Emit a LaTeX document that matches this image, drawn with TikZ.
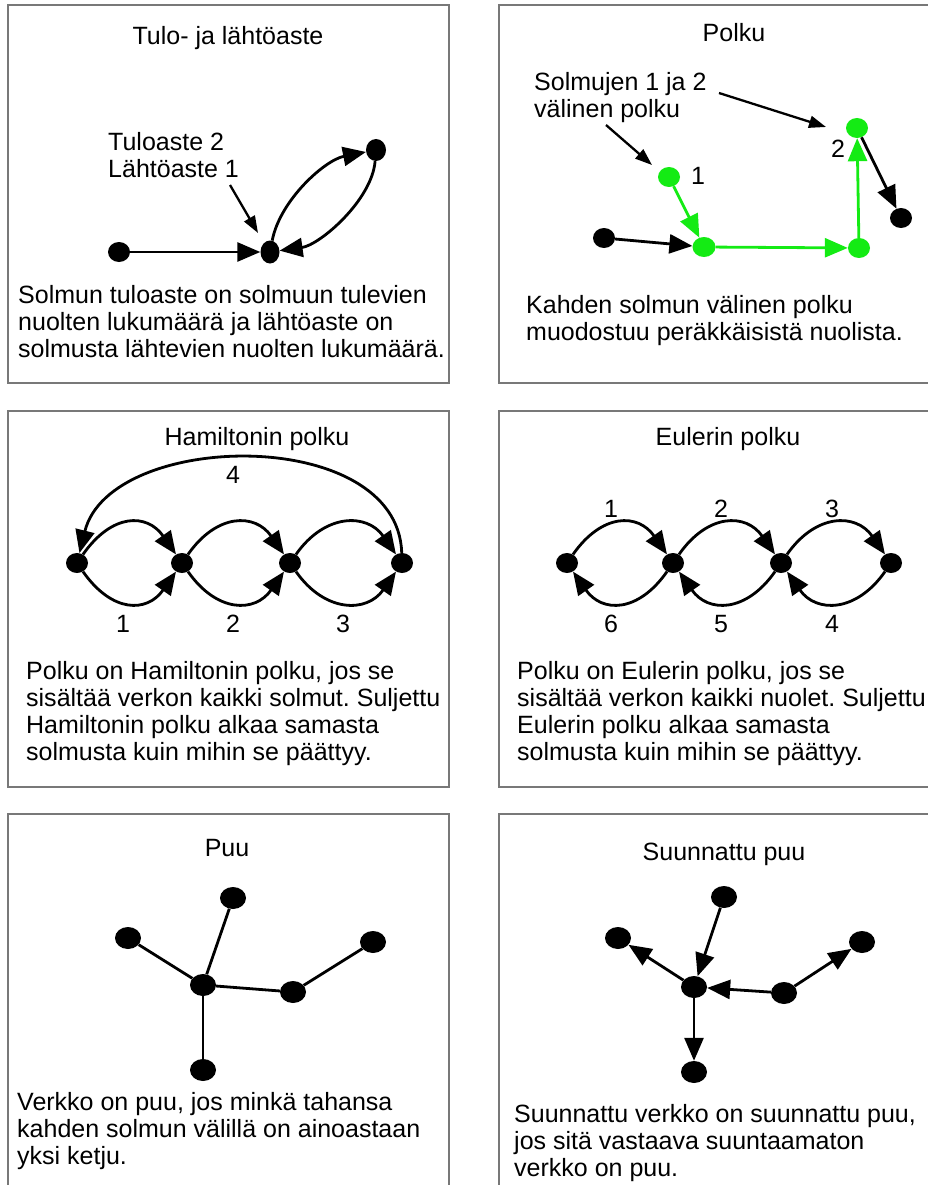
\documentclass[tikz,border=0pt]{standalone}
\usepackage{fontspec}
\setmainfont{Liberation Sans}
\usetikzlibrary{arrows.meta,shapes.geometric}
\definecolor{boxgray}{RGB}{120,120,120}
\definecolor{grn}{RGB}{20,235,20}
\frenchspacing
\begin{document}
\begin{tikzpicture}[x=1pt,y=-1pt,
  panel/.style={draw=boxgray,line width=1.3pt},
  dot/.style={ellipse,fill=black,inner sep=0pt,minimum width=22pt,minimum height=20pt},
  gdot/.style={dot,fill=grn},
  bigdot/.style={dot,minimum width=26pt,minimum height=22pt},
  edge/.style={line width=2.8pt},
  arr/.style={edge,-{Triangle[length=23pt,width=19pt]}},
  garr/.style={arr,draw=grn,fill=grn},
  ptr/.style={line width=2.3pt,-{Triangle[length=17pt,width=12pt]}},
  lbl/.style={font=\fontsize{25}{27}\selectfont,inner sep=0pt},
  para/.style={lbl,align=left,anchor=base west},
]
\useasboundingbox (0,0) rectangle (927,1185);
% panels
\draw[panel] (8,5) rectangle (449,383);
\draw[panel] (499,5) rectangle (945,383);
\draw[panel] (8,411) rectangle (449,787);
\draw[panel] (499,411) rectangle (945,787);
\draw[panel] (8,814) rectangle (449,1200);
\draw[panel] (499,814) rectangle (945,1200);

% ---------- Panel 1
\node[lbl,anchor=base] (t1) at (228,45) {Tulo- ja lähtöaste};
\node[dot] (a1) at (119,252) {};
\node[dot,minimum width=19pt,minimum height=23pt] (a2) at (270,252) {};
\node[dot,minimum width=20pt,minimum height=22pt] (a3) at (376,150) {};
\draw[arr] (a1) -- (a2);
\draw[arr] (a2) .. controls (280,200) and (325,160) .. (a3);
\draw[arr] (a3) .. controls (372,200) and (320,245) .. (a2);
\node[para] (l1) at (108,178) {Tuloaste 2\\Lähtöaste 1};
\coordinate (p1s) at (230,185);
\coordinate (p1e) at (258,233);
\draw[ptr] (p1s) -- (p1e);
\node[para] (d1) at (18,357) {Solmun tuloaste on solmuun tulevien\\nuolten lukumäärä ja lähtöaste on\\solmusta lähtevien nuolten lukumäärä.};

% ---------- Panel 2
\node[lbl,anchor=base] (t2) at (734,42) {Polku};
\node[para] (l2) at (534,118) {Solmujen 1 ja 2\\välinen polku};
\node[gdot] (b1) at (669,177) {};
\node[gdot,minimum width=23pt] (b2) at (704,247) {};
\node[gdot] (b3) at (859,248) {};
\node[gdot] (b4) at (857,128) {};
\node[dot] (b5) at (901,218) {};
\node[dot] (b6) at (604,238) {};
\draw[garr] (b1) -- (b2);
\draw[garr] (b2) -- (b3);
\draw[garr] (b3) -- (b4);
\draw[arr] (b6) -- (b2);
\draw[arr] (b4) -- (b5);
\node[lbl,anchor=base west] (n1lbl) at (691,185) {1};
\node[lbl,anchor=base] (n2lbl) at (838,158) {2};
\coordinate (p2s) at (606,125);
\coordinate (p2e) at (652,165);
\coordinate (p3s) at (719,93);
\coordinate (p3e) at (826,127);
\draw[ptr] (p2s) -- (p2e);
\draw[ptr] (p3s) -- (p3e);
\node[para] (d2) at (526,340) {Kahden solmun välinen polku\\muodostuu peräkkäisistä nuolista.};

% ---------- Panel 3
\node[lbl,anchor=base] (t3) at (257,445) {Hamiltonin polku};
\node[dot] (h1) at (77,563) {};
\node[dot] (h2) at (182,563) {};
\node[dot] (h3) at (290,563) {};
\node[dot] (h4) at (402,563) {};
\foreach \p/\q in {h1/h2,h2/h3,h3/h4}{
  \draw[arr] (\p) .. controls +(35,-50) and +(-35,-50) .. (\q);
  \draw[arr] (\p) .. controls +(35,50) and +(-35,50) .. (\q);
}
\draw[arr] (h4) .. controls (398,425) and (110,430) .. (h1);
\node[lbl,anchor=base] (hl4) at (233,483) {4};
\node[lbl,anchor=base] (hl1) at (123,632) {1};
\node[lbl,anchor=base] (hl2) at (233,632) {2};
\node[lbl,anchor=base] (hl3) at (343,632) {3};
\node[para] (d3) at (26,760) {Polku on Hamiltonin polku, jos se\\sisältää verkon kaikki solmut. Suljettu\\Hamiltonin polku alkaa samasta\\solmusta kuin mihin se päättyy.};

% ---------- Panel 4
\node[lbl,anchor=base] (t4) at (728,445) {Eulerin polku};
\node[dot] (e1) at (567,563) {};
\node[dot] (e2) at (673,563) {};
\node[dot] (e3) at (781,563) {};
\node[dot] (e4) at (891,563) {};
\foreach \p/\q in {e1/e2,e2/e3,e3/e4}{
  \draw[arr] (\p) .. controls +(35,-50) and +(-35,-50) .. (\q);
  \draw[arr] (\q) .. controls +(-35,50) and +(35,50) .. (\p);
}
\node[lbl,anchor=base] (el1) at (611,517) {1};
\node[lbl,anchor=base] (el2) at (721,517) {2};
\node[lbl,anchor=base] (el3) at (832,517) {3};
\node[lbl,anchor=base] (el6) at (611,632) {6};
\node[lbl,anchor=base] (el5) at (721,632) {5};
\node[lbl,anchor=base] (el4) at (832,632) {4};
\node[para] (d4) at (517,760) {Polku on Eulerin polku, jos se\\sisältää verkon kaikki nuolet. Suljettu\\Eulerin polku alkaa samasta\\solmusta kuin mihin se päättyy.};

% ---------- Panel 5
\node[lbl,anchor=base] (t5) at (227,856) {Puu};
\node[bigdot] (u1) at (233,898) {};
\node[bigdot] (u2) at (128,938) {};
\node[bigdot] (u3) at (203,985) {};
\node[bigdot] (u4) at (293,992) {};
\node[bigdot] (u5) at (373,942) {};
\node[bigdot] (u6) at (203,1070) {};
\draw[edge] (u3) -- (u1);
\draw[edge] (u3) -- (u2);
\draw[edge] (u3) -- (u4);
\draw[edge] (u4) -- (u5);
\draw[edge] (u3) -- (u6);
\node[para] (d5) at (17,1164) {Verkko on puu, jos minkä tahansa\\kahden solmun välillä on ainoastaan\\yksi ketju.};

% ---------- Panel 6
\node[lbl,anchor=base] (t6) at (724,860) {Suunnattu puu};
\node[bigdot] (s1) at (724,897) {};
\node[bigdot] (s2) at (618,938) {};
\node[bigdot] (s3) at (694,987) {};
\node[bigdot] (s4) at (784,993) {};
\node[bigdot] (s5) at (862,942) {};
\node[bigdot] (s6) at (694,1072) {};
\draw[arr] (s1) -- (s3);
\draw[arr] (s3) -- (s2);
\draw[arr] (s4) -- (s3);
\draw[arr] (s4) -- (s5);
\draw[arr] (s3) -- (s6);
\node[para] (d6) at (514,1176) {Suunnattu verkko on suunnattu puu,\\jos sitä vastaava suuntaamaton\\verkko on puu.};
\end{tikzpicture}
\end{document}
